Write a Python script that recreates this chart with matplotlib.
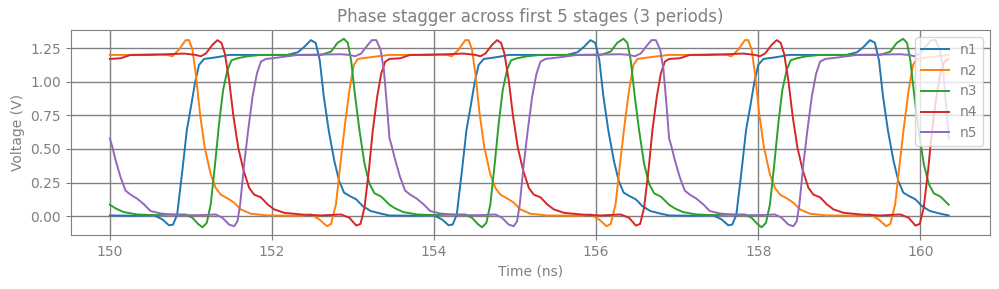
"""
Ring oscillator: phase stagger over the first 5 stages, 3 periods.
Samples are read off one period per node and repeated for each period.
"""

import matplotlib

matplotlib.use("Agg")
import matplotlib.pyplot as plt

T0 = 150.0        # ns, start of the window
PERIOD = 3.45     # ns
N_PERIODS = 3

GRAY = "#808080"

# one period per node: time offset (ns) from the period start, voltage (V)
n1_t = [0.0, 0.30, 0.54, 0.65, 0.73, 0.78, 0.83, 0.895, 0.95, 1.0, 1.05, 1.10,
        1.163, 1.287, 1.39, 1.47, 1.74, 2.19, 2.32, 2.40, 2.48, 2.54, 2.59, 2.64,
        2.70, 2.77, 2.83, 2.89, 2.96, 3.04, 3.12, 3.22, 3.35]
n1_v = [0.005, 0.003, 0.008, -0.025, -0.068, -0.063, 0.01, 0.34, 0.64, 0.81, 0.99, 1.125,
        1.17, 1.18, 1.19, 1.20, 1.20, 1.20, 1.22, 1.26, 1.31, 1.29, 1.16, 0.89,
        0.64, 0.41, 0.26, 0.175, 0.15, 0.125, 0.075, 0.038, 0.018]

n2_t = [0.0, 0.297, 0.544, 0.709, 0.77, 0.854, 0.936, 0.977, 1.019, 1.06, 1.113, 1.171,
        1.245, 1.307, 1.369, 1.472, 1.534, 1.616, 1.74, 1.946, 2.359, 2.482, 2.586, 2.68,
        2.73, 2.79, 2.845, 2.903, 2.957, 3.01, 3.06, 3.18, 3.31]
n2_v = [1.20, 1.20, 1.205, 1.20, 1.19, 1.24, 1.31, 1.31, 1.24, 1.06, 0.76, 0.51,
        0.31, 0.21, 0.16, 0.125, 0.10, 0.05, 0.018, 0.005, 0.003, 0.013, -0.025, -0.075,
        -0.058, 0.088, 0.39, 0.69, 0.94, 1.125, 1.17, 1.18, 1.19]

n3_t = [0.0, 0.07, 0.173, 0.338, 0.544, 0.79, 0.936, 1.019, 1.089, 1.142, 1.196, 1.245,
        1.299, 1.348, 1.398, 1.452, 1.501, 1.575, 1.699, 1.864, 2.19, 2.606, 2.73, 2.81,
        2.887, 2.936, 2.977, 3.027, 3.08, 3.142, 3.204, 3.266, 3.35]
n3_v = [0.085, 0.058, 0.03, 0.0125, 0.0075, 0.0125, 0.0125, -0.0125, -0.058, -0.083, -0.05, 0.088,
        0.39, 0.69, 0.94, 1.09, 1.16, 1.175, 1.19, 1.20, 1.20, 1.20, 1.225, 1.29,
        1.32, 1.29, 1.16, 0.89, 0.64, 0.39, 0.24, 0.17, 0.145]

n4_t = [0.0, 0.132, 0.256, 0.503, 0.915, 1.06, 1.122, 1.184, 1.266, 1.328, 1.377, 1.419,
        1.472, 1.526, 1.584, 1.65, 1.72, 1.781, 1.864, 1.946, 2.029, 2.153, 2.359, 2.606,
        2.854, 2.957, 3.04, 3.093, 3.142, 3.196, 3.245, 3.299, 3.348, 3.398]
n4_v = [1.17, 1.175, 1.20, 1.20, 1.21, 1.20, 1.19, 1.21, 1.275, 1.31, 1.29, 1.21,
        1.01, 0.74, 0.51, 0.34, 0.21, 0.16, 0.14, 0.088, 0.05, 0.025, 0.0125, 0.005,
        0.0125, -0.0125, -0.07, -0.058, 0.063, 0.34, 0.64, 0.89, 1.06, 1.15]

n5_t = [0.0, 0.029, 0.07, 0.132, 0.194, 0.256, 0.338, 0.421, 0.503, 0.627, 0.833, 1.122,
        1.307, 1.39, 1.472, 1.534, 1.575, 1.608, 1.658, 1.707, 1.761, 1.814, 1.864, 1.926,
        2.07, 2.194, 2.318, 2.854, 2.957, 3.027, 3.10, 3.184, 3.233, 3.287, 3.34, 3.381,
        3.425]
n5_v = [0.58, 0.52, 0.42, 0.29, 0.19, 0.16, 0.13, 0.088, 0.038, 0.02, 0.0075, 0.0075,
        0.0125, -0.0125, -0.063, -0.075, -0.038, 0.088, 0.39, 0.64, 0.89, 1.06, 1.15, 1.17,
        1.18, 1.19, 1.20, 1.205, 1.20, 1.19, 1.21, 1.275, 1.31, 1.31, 1.24, 1.09,
        0.78]

nodes = ["n1", "n2", "n3", "n4", "n5"]
node_t = [n1_t, n2_t, n3_t, n4_t, n5_t]
node_v = [n1_v, n2_v, n3_v, n4_v, n5_v]


def repeat_periods(ts, vs):
    """Lay the one-period samples end to end and close at the last period edge."""
    out_t, out_v = [], []
    for k in range(N_PERIODS):
        out_t += [T0 + k * PERIOD + t for t in ts]
        out_v += list(vs)
    out_t.append(T0 + N_PERIODS * PERIOD)
    out_v.append(vs[0])
    return out_t, out_v


def main() -> None:
    plt.rcParams["font.family"] = ["DejaVu Sans"]

    fig = plt.figure(figsize=(9.99, 2.89), dpi=100)
    ax = fig.add_axes([0.071, 0.187, 0.92, 0.709])

    for name, ts, vs in zip(nodes, node_t, node_v):
        xs, ys = repeat_periods(ts, vs)
        ax.plot(xs, ys, linewidth=1.4, label=name)

    ax.set_title("Phase stagger across first 5 stages (3 periods)", color=GRAY, fontsize=12)
    ax.set_xlabel("Time (ns)", color=GRAY, fontsize=10)
    ax.set_ylabel("Voltage (V)", color=GRAY, fontsize=10)
    ax.set_xticks([150, 152, 154, 156, 158, 160])
    ax.set_yticks([0.0, 0.25, 0.5, 0.75, 1.0, 1.25])
    ax.set_xlim(149.52, 160.86)
    ax.set_ylim(-0.14, 1.385)
    ax.tick_params(colors=GRAY, labelcolor=GRAY, labelsize=10, length=3.5)
    for s in ax.spines.values():
        s.set_color(GRAY)
    ax.grid(True, color=GRAY, linewidth=1.0)
    ax.set_axisbelow(True)

    leg = ax.legend(loc="upper right", fontsize=10, framealpha=0.8)
    for txt in leg.get_texts():
        txt.set_color(GRAY)

    fig.savefig("out.png", dpi=100)


if __name__ == "__main__":
    main()
